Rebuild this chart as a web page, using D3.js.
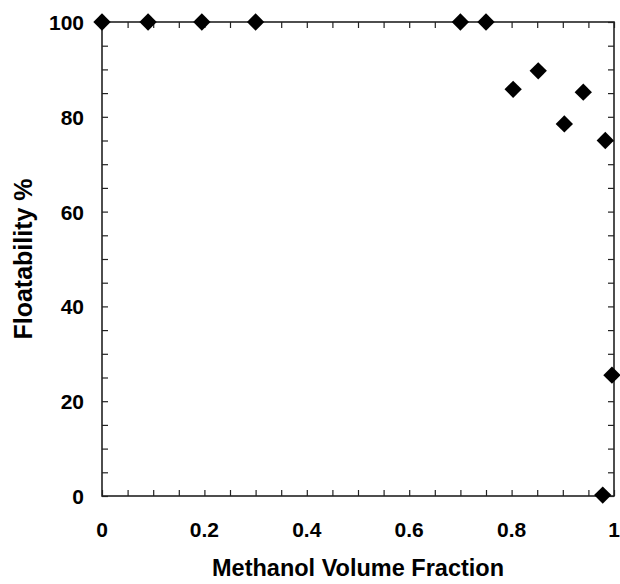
<!DOCTYPE html>
<html>
<head>
<meta charset="utf-8">
<script src="https://cdn.jsdelivr.net/npm/d3@7"></script>
<style>
  body { margin: 0; background: #fff; }
  svg { display: block; font-family: "Liberation Sans", Arial, sans-serif; }
</style>
</head>
<body>
<svg id="chart" width="620" height="584"></svg>
<script>
const methanolFraction = [0, 0.09, 0.195, 0.3, 0.7, 0.75, 0.803, 0.852, 0.903, 0.94, 0.983, 0.978, 0.996];
const floatability = [100, 100, 100, 100, 100, 100, 85.8, 89.7, 78.5, 85.2, 75, 0.2, 25.5];
const xTickLabels = [0, 0.2, 0.4, 0.6, 0.8, 1];
const yTickLabels = [0, 20, 40, 60, 80, 100];

const svg = d3.select("#chart");
const margin = { left: 102, right: 6, top: 22, bottom: 88 };
const width = 620, height = 584;
const innerW = width - margin.left - margin.right;
const innerH = height - margin.top - margin.bottom;

const x = d3.scaleLinear().domain([0, 1]).range([margin.left, margin.left + innerW]);
const y = d3.scaleLinear().domain([0, 100]).range([margin.top + innerH, margin.top]);

const ink = "#222";

// minor ticks (inward) on all four sides
const xMinor = d3.range(0, 1.0001, 0.05);
const yMinor = d3.range(0, 100.001, 5);

const g = svg.append("g");
const tick = 6;

g.append("g")
  .attr("transform", `translate(0,${y(0)})`)
  .call(d3.axisBottom(x).tickValues(xMinor).tickSize(-tick).tickFormat(""))
  .call((a) => a.select(".domain").remove());
g.append("g")
  .attr("transform", `translate(0,${y(100)})`)
  .call(d3.axisTop(x).tickValues(xMinor).tickSize(-tick).tickFormat(""))
  .call((a) => a.select(".domain").remove());
g.append("g")
  .attr("transform", `translate(${x(0)},0)`)
  .call(d3.axisLeft(y).tickValues(yMinor).tickSize(-tick).tickFormat(""))
  .call((a) => a.select(".domain").remove());
g.append("g")
  .attr("transform", `translate(${x(1)},0)`)
  .call(d3.axisRight(y).tickValues(yMinor).tickSize(-tick).tickFormat(""))
  .call((a) => a.select(".domain").remove());

g.selectAll(".tick line").attr("stroke", ink).attr("stroke-width", 1.2);

// frame
svg.append("rect")
  .attr("x", x(0)).attr("y", y(100))
  .attr("width", x(1) - x(0)).attr("height", y(0) - y(100))
  .attr("fill", "none").attr("stroke", ink).attr("stroke-width", 1.6);

// tick labels
svg.append("g").selectAll("text").data(xTickLabels).join("text")
  .attr("x", (d) => x(d)).attr("y", y(0) + 41)
  .attr("text-anchor", "middle")
  .attr("font-size", 21).attr("font-weight", "bold")
  .text((d) => d);

svg.append("g").selectAll("text").data(yTickLabels).join("text")
  .attr("x", x(0) - 18).attr("y", (d) => y(d) + 8)
  .attr("text-anchor", "end")
  .attr("font-size", 21).attr("font-weight", "bold")
  .text((d) => d);

// axis titles
svg.append("text")
  .attr("x", 358).attr("y", 576)
  .attr("text-anchor", "middle")
  .attr("font-size", 23.5).attr("font-weight", "bold")
  .text("Methanol Volume Fraction");

svg.append("text")
  .attr("transform", `translate(32,${(y(0) + y(100)) / 2}) rotate(-90)`)
  .attr("text-anchor", "middle")
  .attr("font-size", 25).attr("font-weight", "bold")
  .text("Floatability %");

// points
const diamond = d3.symbol().type(d3.symbolSquare).size(150);
svg.append("g").selectAll("path")
  .data(methanolFraction.map((v, i) => [v, floatability[i]]))
  .join("path")
  .attr("d", diamond)
  .attr("transform", (d) => `translate(${x(d[0])},${y(d[1])}) rotate(45)`)
  .attr("fill", "#000");
</script>
</body>
</html>
